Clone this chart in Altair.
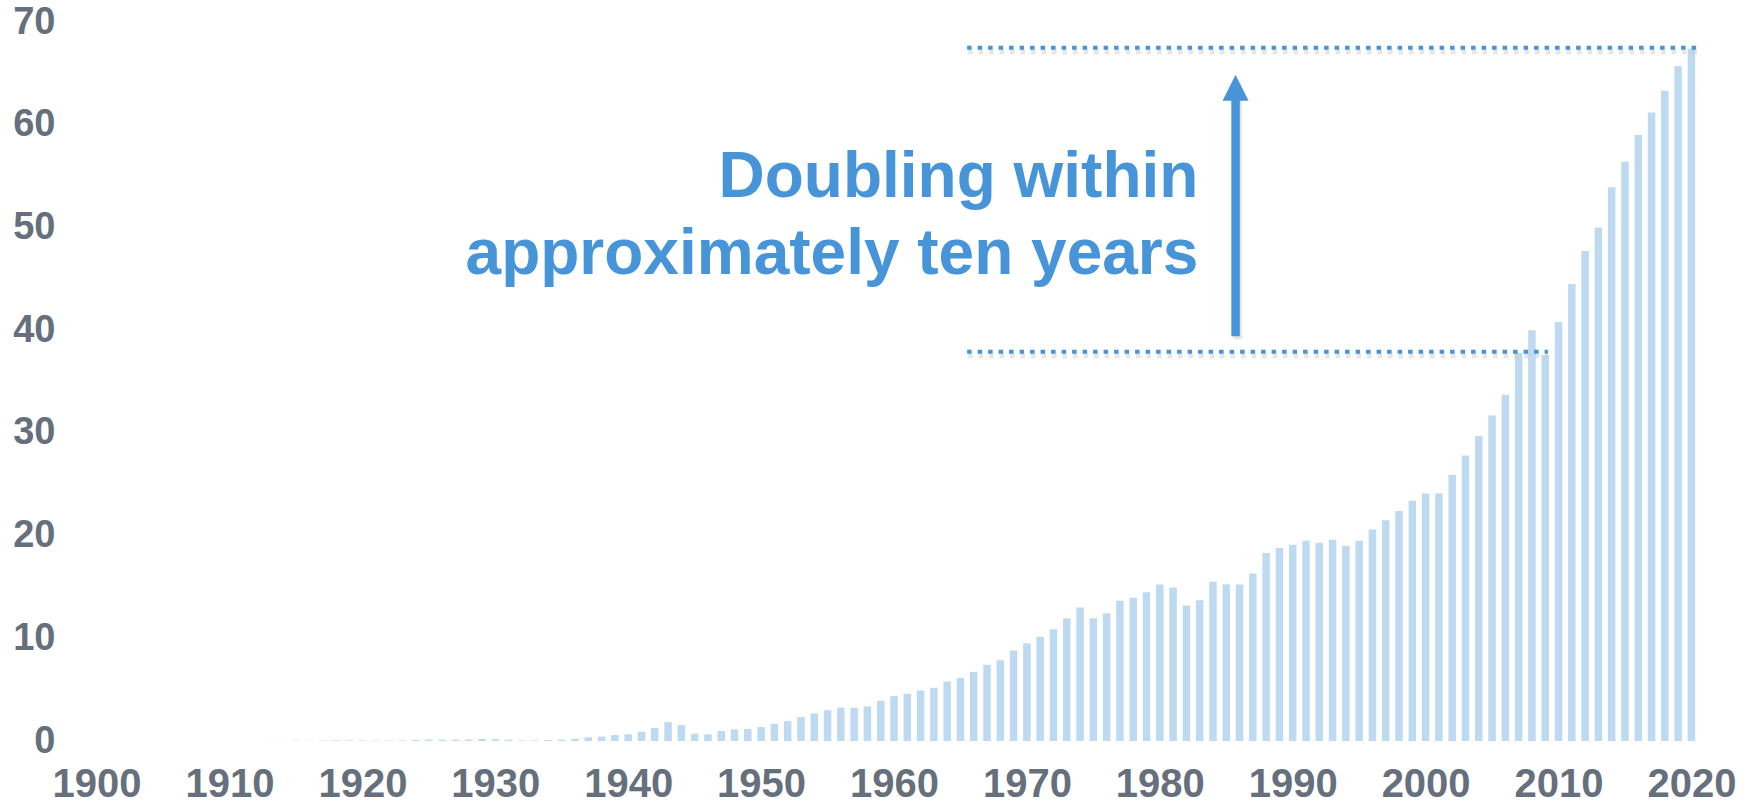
import altair as alt
import pandas as pd

# ---- data ----
years = list(range(1913, 2021))
values = [
    0.02, 0.02, 0.03, 0.03, 0.06, 0.06, 0.06,                # 1913-1919
    0.06, 0.04, 0.04, 0.06, 0.10, 0.13, 0.13, 0.13, 0.15, 0.20,  # 1920-1929
    0.16, 0.13, 0.06, 0.06, 0.10, 0.13, 0.23, 0.36, 0.43, 0.58,  # 1930-1939
    0.65, 0.90, 1.26, 1.84, 1.55, 0.71, 0.65, 0.97, 1.13, 1.17,  # 1940-1949
    1.36, 1.68, 1.94, 2.33, 2.69, 3.00, 3.24, 3.24, 3.37, 3.92,  # 1950-1959
    4.37, 4.60, 4.92, 5.18, 5.79, 6.15, 6.73, 7.41, 7.86, 8.80,  # 1960-1969
    9.51, 10.16, 10.87, 11.94, 13.00, 11.94, 12.43, 13.66, 13.95, 14.47,  # 1970-1979
    15.24, 14.95, 13.20, 13.70, 15.50, 15.24, 15.24, 16.30, 18.30, 18.80,  # 1980-1989
    19.10, 19.50, 19.30, 19.60, 19.00, 19.50, 20.60, 21.50, 22.40, 23.40,  # 1990-1999
    24.10, 24.10, 25.90, 27.80, 29.70, 31.70, 33.70, 37.80, 40.00, 37.60,  # 2000-2009
    40.80, 44.50, 47.70, 50.00, 53.90, 56.40, 59.00, 61.20, 63.30, 65.70,  # 2010-2019
    67.40,                                                        # 2020
]
x_ticks = list(range(1900, 2021, 10))
y_ticks = list(range(0, 71, 10))

# annotation (data coordinates)
note_lines = ["Doubling within", "approximately ten years"]
note_x = [1982.9]
note_y = [53.0]
guide_start = [1965.5, 1965.5]
guide_end = [2020.5, 2009.2]
guide_level = [67.5, 37.9]
arrow_x = [1985.7]
arrow_from = [39.4]
arrow_to = [62.4]
arrow_head = [63.6]

BLUE = "#4795d8"
BAR = "#bedaf0"
GREY = "#66707d"
FONT = "Liberation Sans"

df = pd.DataFrame({"year": years, "value": values})
guides = pd.DataFrame({"x1": guide_start, "x2": guide_end, "y": guide_level})
arrow = pd.DataFrame({"x": arrow_x, "y1": arrow_from, "y2": arrow_to, "yh": arrow_head})
note = pd.DataFrame({"x": note_x, "y": note_y})

xs = alt.Scale(domain=[1898, 2022], nice=False, zero=False)
ys = alt.Scale(domain=[0, 70], nice=False)

x_axis = alt.Axis(values=x_ticks, format="d", labelFont=FONT, labelFontWeight="bold",
                  labelFontSize=40, labelColor=GREY, ticks=False, tickSize=0,
                  domain=False, grid=False, labelPadding=23, labelFlush=False,
                  labelOverlap=False)
y_axis = alt.Axis(values=y_ticks, format="d", labelFont=FONT, labelFontWeight="bold",
                  labelFontSize=38, labelColor=GREY, ticks=False, tickSize=0,
                  domain=False, grid=False, labelPadding=10, labelFlush=False,
                  labelOverlap=False)


def X(field):
    return alt.X(field, scale=xs, axis=x_axis, title=None)


def Y(field):
    return alt.Y(field, scale=ys, axis=y_axis, title=None)


bars = alt.Chart(df).mark_bar(size=7.5, color=BAR).encode(x=X("year:Q"), y=Y("value:Q"))

guide_shadow = alt.Chart(guides).mark_rule(
    color="#c8c8c8", strokeWidth=5, strokeDash=[4.5, 6], opacity=0.45, yOffset=4, xOffset=1
).encode(x=X("x1:Q"), x2="x2:Q", y=Y("y:Q"))
guide_rules = alt.Chart(guides).mark_rule(
    color=BLUE, strokeWidth=4, strokeDash=[4.5, 6], strokeCap="butt"
).encode(x=X("x1:Q"), x2="x2:Q", y=Y("y:Q"))

shaft_shadow = alt.Chart(arrow).mark_rule(
    color="#c8c8c8", strokeWidth=9, opacity=0.45, xOffset=2, yOffset=3
).encode(x=X("x:Q"), y=Y("y1:Q"), y2="y2:Q")
shaft = alt.Chart(arrow).mark_rule(color=BLUE, strokeWidth=8.5).encode(
    x=X("x:Q"), y=Y("y1:Q"), y2="y2:Q"
)
head = alt.Chart(arrow).mark_point(
    shape="M-1,1L0,-1L1,1Z", size=676, filled=True, color=BLUE, opacity=1, strokeWidth=0
).encode(x=X("x:Q"), y=Y("yh:Q"))

text = alt.Chart(note).mark_text(
    text=note_lines, align="right", baseline="alphabetic", font=FONT, fontWeight="bold",
    fontSize=64, lineHeight=77, color=BLUE
).encode(x=X("x:Q"), y=Y("y:Q"))

chart = alt.layer(bars, guide_shadow, guide_rules, shaft_shadow, shaft, head, text).properties(
    width=1658, height=719,
    autosize=alt.AutoSizeParams(type="none"),
    padding={"left": 65, "top": 22, "right": 35, "bottom": 63},
    background="white",
).configure_view(stroke=None)

chart.save("out.html", embed_options={"renderer": "svg", "actions": False})
